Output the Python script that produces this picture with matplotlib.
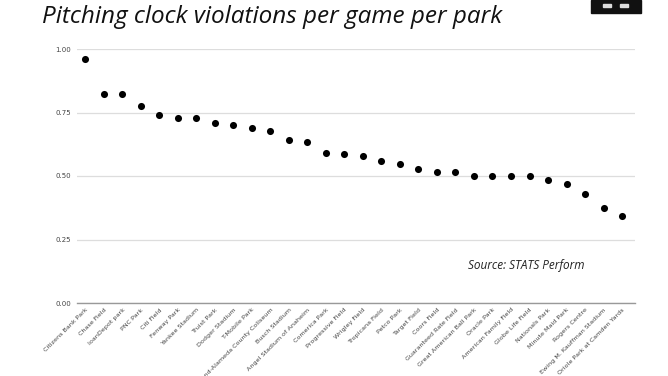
import matplotlib
matplotlib.use("Agg")
import matplotlib.pyplot as plt
from matplotlib.patches import Rectangle

parks = ["Citizens Bank Park", "Chase Field", "loanDepot park", "PNC Park", "Citi Field",
         "Fenway Park", "Yankee Stadium", "Truist Park", "Dodger Stadium", "T-Mobile Park",
         "Oakland-Alameda County Coliseum", "Busch Stadium", "Angel Stadium of Anaheim",
         "Comerica Park", "Progressive Field", "Wrigley Field", "Tropicana Field", "Petco Park",
         "Target Field", "Coors Field", "Guaranteed Rate Field", "Great American Ball Park",
         "Oracle Park", "American Family Field", "Globe Life Field", "Nationals Park",
         "Minute Maid Park", "Rogers Centre", "Ewing M. Kauffman Stadium",
         "Oriole Park at Camden Yards"]
violations = [0.962, 0.824, 0.824, 0.774, 0.740, 0.727, 0.727, 0.710, 0.700, 0.688,
              0.677, 0.642, 0.633, 0.592, 0.585, 0.580, 0.558, 0.547, 0.529, 0.515,
              0.515, 0.500, 0.500, 0.500, 0.500, 0.483, 0.467, 0.428, 0.373, 0.344]
yticks = [0.0, 0.25, 0.5, 0.75, 1.0]

fig = plt.figure(figsize=(6.68, 3.76), dpi=100)
W, H = 668, 376
ax = fig.add_axes([77 / W, 1 - 303 / H, (635 - 77) / W, (303 - 49) / H])

x = list(range(len(parks)))
ax.scatter(x, violations, s=26, color="black", zorder=3, linewidths=0)
ax.set_ylim(0, 1.0)
ax.set_xlim(-0.45, len(parks) - 0.3)
ax.set_yticks(yticks)
ax.set_yticklabels([f"{v:.2f}" for v in yticks], fontsize=5, color="#444444")
ax.set_xticks(x)
ax.set_xticklabels(parks, rotation=45, ha="right", rotation_mode="anchor",
                   fontsize=4.6, color="#444444")
ax.tick_params(axis="both", length=0, pad=4)
ax.tick_params(axis="x", pad=3)
ax.grid(axis="y", color="#dddddd", linewidth=0.9)
ax.set_axisbelow(True)
for s in ["top", "right", "left"]:
    ax.spines[s].set_visible(False)
ax.spines["bottom"].set_color("#999999")
ax.spines["bottom"].set_linewidth(1.0)

fig.text(42 / W, 1 - 23 / H, "Pitching clock violations per game per park",
         fontsize=17.5, style="italic", family="Open Sans", va="baseline", ha="left",
         color="#111111")
fig.text(468 / W, 1 - 265 / H, "Source: STATS Perform", fontsize=8.5, style="italic",
         family="Open Sans", va="center", ha="left", color="#222222")

# logo box top-right
fig.patches.append(Rectangle((591 / W, 1 - 13 / H), 50 / W, 13 / H,
                             transform=fig.transFigure, color="#111111"))
fig.patches.append(Rectangle((603 / W, 1 - 7 / H), 8 / W, 3 / H,
                             transform=fig.transFigure, color="#dddddd"))
fig.patches.append(Rectangle((620 / W, 1 - 7 / H), 8 / W, 3 / H,
                             transform=fig.transFigure, color="#dddddd"))

fig.savefig("out.png", dpi=100)
